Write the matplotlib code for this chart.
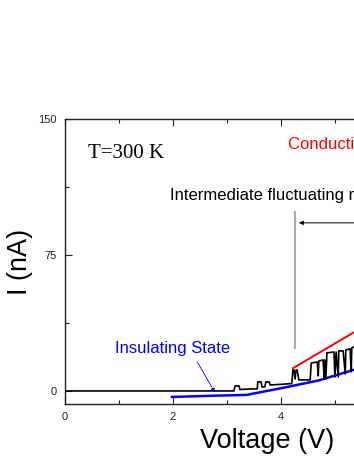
import matplotlib
matplotlib.use("Agg")
import matplotlib.pyplot as plt
from matplotlib.ticker import MultipleLocator

# ---- data ----
black_v = [0.0, 3.06, 3.13, 3.15, 3.22, 3.24, 3.46, 3.56, 3.57, 3.63, 3.65, 3.70, 3.72, 3.78,
           3.80, 3.98, 4.20, 4.22, 4.24, 4.26, 4.28, 4.30, 4.33, 4.54, 4.56, 4.67, 4.69, 4.70,
           4.78, 4.80, 4.81, 4.83, 4.85, 4.98, 5.00, 5.02, 5.06, 5.07, 5.15, 5.19, 5.20, 5.28,
           5.30, 5.31, 5.35, 5.46]
black_i = [0.0, 0.0, 0.0, 2.8, 2.8, 0.8, 1.1, 1.1, 5.0, 5.0, 2.2, 2.2, 5.0, 5.0,
           3.3, 3.6, 4.1, 11.6, 11.6, 6.6, 11.6, 11.6, 6.1, 6.1, 15.4, 16.0, 8.3, 16.5,
           17.1, 6.6, 17.1, 6.6, 21.0, 21.5, 7.7, 21.5, 7.7, 22.1, 22.1, 9.4, 22.6, 23.2,
           10.5, 23.7, 24.3, 24.8]

insul_v = [1.98, 2.80, 3.36, 4.00, 4.70, 5.33, 5.60]
insul_i = [-3.3, -2.6, -2.2, 1.5, 5.8, 11.5, 14.5]

cond_v = [4.22, 5.33, 5.60]
cond_i = [12.5, 32.0, 36.7]

x_ticks = [0, 2, 4, 6, 8, 10]
y_ticks = [0, 75, 150]

W, H = 354, 458
fig = plt.figure(figsize=(W / 100, H / 100), dpi=100)
ax = fig.add_axes([65 / W, 54 / H, 540 / W, 285 / H])

ax.plot(black_v, black_i, color="black", lw=1.2, zorder=3)
ax.plot(insul_v, insul_i, color="#0000ff", lw=1.8, zorder=2)
ax.plot(cond_v, cond_i, color="#ff0000", lw=1.4, zorder=2)

# intermediate-region marker
ax.plot([4.26, 4.26], [23.7, 98.7], color="#aaaaaa", lw=1.5, zorder=1)
ax.annotate("", xy=(4.28, 92.7), xytext=(7.0, 92.7),
            arrowprops=dict(arrowstyle="-|>", color="black", lw=0.7, mutation_scale=6))
ax.annotate("", xy=(2.80, -2.2), xytext=(2.43, 17.1),
            arrowprops=dict(arrowstyle="-|>", color="#0000ff", lw=0.6, mutation_scale=6))

ax.text(0.43, 130.7, "T=300 K", family="Liberation Serif", fontsize=15, va="center", ha="left")
ax.text(4.13, 135.7, "Conducting State", family="Liberation Sans", fontsize=12,
        color="#ff0000", va="center", ha="left")
ax.text(1.95, 107.6, "Intermediate fluctuating regime", family="Liberation Sans",
        fontsize=12, color="black", va="center", ha="left")
ax.text(0.93, 23.2, "Insulating State", family="Liberation Sans", fontsize=12,
        color="#0000ff", va="center", ha="left")

ax.set_xlim(0, 10)
ax.set_ylim(-7.2, 150)
ax.set_xticks(x_ticks)
ax.set_yticks(y_ticks)
ax.xaxis.set_minor_locator(MultipleLocator(1))
ax.yaxis.set_minor_locator(MultipleLocator(37.5))
ax.tick_params(which="both", direction="in", top=True, right=True, colors="#222222",
               labelsize=8, width=0.8)
ax.tick_params(which="major", length=5)
ax.tick_params(which="minor", length=3)
for lab in ax.get_xticklabels() + ax.get_yticklabels():
    lab.set_family("Liberation Sans")
ax.tick_params(axis="x", pad=6)
ax.tick_params(axis="y", pad=6)
for s in ax.spines.values():
    s.set_linewidth(1.0)
    s.set_color("#222222")

fig.text(267 / W, 1 - 441 / H, "Voltage (V)", family="Liberation Sans", fontsize=19.5,
         ha="center", va="center")
fig.text(20 / W, 1 - 262 / H, "I (nA)", family="Liberation Sans", fontsize=19.5,
         ha="center", va="center", rotation=90)

fig.savefig("out.png", dpi=100)
